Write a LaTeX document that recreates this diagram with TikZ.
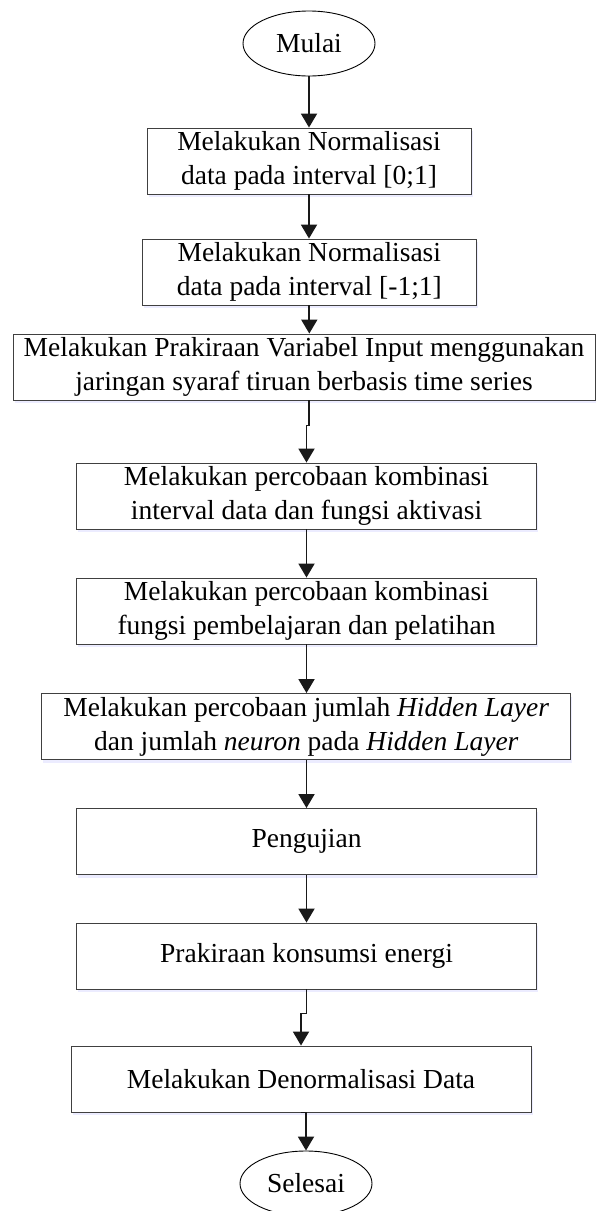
\documentclass[tikz,border=0pt]{standalone}
\usepackage{fontspec}
\setmainfont{Liberation Serif}
\usetikzlibrary{arrows.meta,shapes.geometric,shadows,calc}
\begin{document}
\begin{tikzpicture}[x=1pt,y=1pt,
  box/.style={draw=black!75,line width=0.9pt,fill=white,rectangle,inner sep=0pt,
    minimum height=66pt,align=center,font=\fontsize{27.5pt}{34pt}\selectfont,
    drop shadow={shadow xshift=1.5pt,shadow yshift=-3pt,fill=blue!12!white,opacity=0.6}},
  term/.style={draw=black,line width=0.9pt,fill=white,ellipse,inner sep=0pt,
    minimum width=132pt,minimum height=65pt,font=\fontsize{27.5pt}{34pt}\selectfont},
  arr/.style={draw=black!90,line width=1.9pt,-{Triangle[length=14pt,width=16pt]}}]
\useasboundingbox[fill=white] (0,0) rectangle (595,-1211);
\node[term] (mulai) at (309,-43.5) {Mulai};
\node[box,minimum width=324pt] (b1) at (309,-161) {Melakukan Normalisasi\\data pada interval [0;1]};
\node[box,minimum width=334pt] (b2) at (309.3,-272) {Melakukan Normalisasi\\data pada interval [-1;1]};
\node[box,minimum width=582pt] (b3) at (304,-367) {Melakukan Prakiraan Variabel Input menggunakan\\jaringan syaraf tiruan berbasis time series};
\node[box,minimum width=460pt] (b4) at (306.5,-496) {Melakukan percobaan kombinasi\\interval data dan fungsi aktivasi};
\node[box,minimum width=460pt] (b5) at (306.5,-611) {Melakukan percobaan kombinasi\\fungsi pembelajaran dan pelatihan};
\node[box,minimum width=529pt] (b6) at (306.3,-726.5) {Melakukan percobaan jumlah \textit{Hidden Layer}\\dan jumlah \textit{neuron} pada \textit{Hidden Layer}};
\node[box,minimum width=460pt] (b7) at (306.5,-841.5) {Pengujian};
\node[box,minimum width=460pt] (b8) at (306.5,-956) {Prakiraan konsumsi energi};
\node[box,minimum width=460pt] (b9) at (301,-1079) {Melakukan Denormalisasi Data};
\node[term] (selesai) at (306,-1183.5) {Selesai};
\draw[arr] (mulai) -- (b1.north);
\draw[arr] (b1) -- (b2.north -| b1.south);
\draw[arr] (b2) -- (b3.north -| b2.south);
\draw[arr] (b3.south -| b2.south) -- ++(0,-25) -| (b4.north);
\draw[arr] (b4) -- (b5);
\draw[arr] (b5) -- (b6.north -| b5.south);
\draw[arr] (b6.south -| b5.south) -- (b7);
\draw[arr] (b7) -- (b8);
\draw[arr] (b8.south) -- ++(0,-24) -| (b9.north);
\draw[arr] (b9.south) -- (b9.south -| selesai.north) -- (selesai.north);
\end{tikzpicture}
\end{document}
